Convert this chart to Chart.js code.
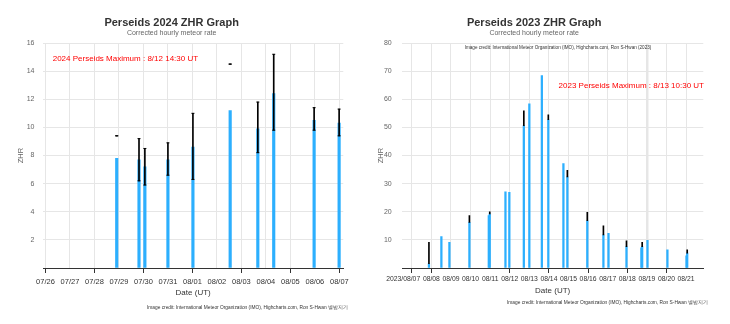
<!DOCTYPE html>
<html>
<head>
<meta charset="utf-8">
<script src="https://cdn.jsdelivr.net/npm/chart.js@4.4.1/dist/chart.umd.min.js"></script>
<style>
  body { margin: 0; background: #fff; }
  .box { position: absolute; top: 0; width: 365px; height: 324px; }
</style>
</head>
<body>
<div class="box" style="left:0"><canvas id="chart2024" width="365" height="324"></canvas></div>
<div class="box" style="left:365px"><canvas id="chart2023" width="365" height="324"></canvas></div>
<script>
const FONT = "'Liberation Sans', Arial, sans-serif";
const BLUE = '#2caffe';
const CREDIT = 'Image credit: International Meteor Organization (IMO), Highcharts.com, Ron S-Hwan 별밤지기';

// 2024 observations (UT)
const start2024   = '2024-07-26T00:00';
const times2024   = ['2024-07-28T21:50', '2024-07-29T19:40', '2024-07-30T01:25', '2024-07-31T00:00', '2024-08-01T00:30',
                     '2024-08-02T13:00', '2024-08-03T16:05', '2024-08-04T07:40', '2024-08-05T23:15', '2024-08-06T23:45'];
const zhr2024     = [7.8, 7.7, 7.2, 7.7, 8.6, 11.2, 9.9, 12.4, 10.5, 10.3];
const errLow2024  = [9.4, 6.2, 5.9, 6.6, 6.3, 14.5, 8.2, 9.8, 9.8, 9.4];
const errHigh2024 = [9.4, 9.2, 8.5, 8.9, 11.0, 14.5, 11.8, 15.2, 11.4, 11.3];
const labels2024  = ['07/26', '07/27', '07/28', '07/29', '07/30', '07/31', '08/01', '08/02', '08/03', '08/04', '08/05', '08/06', '08/07'];

// 2023 observations (UT)
const start2023   = '2023-08-07T00:00';
const times2023   = ['2023-08-07T21:00', '2023-08-08T12:15', '2023-08-08T22:05', '2023-08-09T22:35', '2023-08-10T22:20',
                     '2023-08-10T23:30', '2023-08-11T18:45', '2023-08-11T23:30', '2023-08-12T17:15', '2023-08-13T00:00',
                     '2023-08-13T15:20', '2023-08-13T23:15', '2023-08-14T17:45', '2023-08-14T22:35', '2023-08-15T23:00',
                     '2023-08-16T18:45', '2023-08-17T01:00', '2023-08-17T23:00', '2023-08-18T17:15', '2023-08-18T18:15',
                     '2023-08-19T00:45', '2023-08-20T01:10', '2023-08-21T00:30', '2023-08-21T01:25'];
const zhr2023     = [1.5, 11.2, 9.1, 16.2, 18.6, 19.2, 27.1, 26.9, 50.6, 58.4,
                     68.4, 52.7, 37.1, 32.4, 16.8, 11.8, 12.3, 7.6, 7.2, 7.6,
                     9.8, 6.5, 4.3, 5.3];
const errLow2023  = [1.5, null, null, 16.2, null, 19.2, null, null, 50.6, null,
                     null, 52.7, null, 32.4, 16.8, 11.8, null, 7.6, null, 7.6,
                     null, null, null, 5.3];
const errHigh2023 = [9.1, null, null, 18.6, null, 20.0, null, null, 55.9, null,
                     null, 54.5, null, 34.7, 19.8, 15.0, null, 9.7, null, 9.1,
                     null, null, null, 6.5];
const labels2023  = ['2023/08/07', '08/08', '08/09', '08/10', '08/11', '08/12', '08/13', '08/14',
                     '08/15', '08/16', '08/17', '08/18', '08/19', '08/20', '08/21'];

function dayOffset(iso, startIso) {
    return (Date.parse(iso + ':00Z') - Date.parse(startIso + ':00Z')) / 864e5;
}

// whiskers on the error bars + free text
const extras = {
    id: 'extras',
    afterDatasetsDraw(chart, args, opts) {
        const w = opts.whisker || 0;
        if (!w) return;
        const ctx = chart.ctx;
        ctx.save();
        ctx.strokeStyle = '#000';
        ctx.lineWidth = 1;
        chart.getDatasetMeta(0).data.forEach(el => {
            [el.y, el.base].forEach(y => {
                ctx.beginPath();
                ctx.moveTo(el.x - w / 2, y);
                ctx.lineTo(el.x + w / 2, y);
                ctx.stroke();
            });
        });
        ctx.restore();
    },
    afterDraw(chart, args, opts) {
        const ctx = chart.ctx;
        ctx.save();
        ctx.textBaseline = 'middle';
        (opts.notes || []).forEach(n => {
            ctx.font = n.size + 'px ' + FONT;
            ctx.fillStyle = n.color;
            ctx.textAlign = n.align;
            ctx.fillText(n.text, n.x, n.y);
        });
        ctx.restore();
    }
};

function buildChart(id, s) {
    const xs = s.times.map(t => dayOffset(t, s.start));
    const bars = xs.map((x, i) => ({ x: x, y: s.zhr[i] }));
    const errs = [];
    xs.forEach((x, i) => {
        if (s.lo[i] != null) errs.push({ x: x, y: [s.lo[i], s.hi[i]] });
    });

    return new Chart(document.getElementById(id), {
        type: 'bar',
        data: {
            datasets: [
                { data: errs, backgroundColor: '#000', barThickness: s.errWidth, grouped: false, order: 0 },
                { data: bars, backgroundColor: BLUE, barThickness: s.barWidth, grouped: false, order: 1 }
            ]
        },
        options: {
            responsive: false,
            animation: false,
            devicePixelRatio: 1,
            layout: { padding: { left: 0, right: s.padRight, top: 0, bottom: 20 } },
            plugins: {
                legend: { display: false },
                tooltip: { enabled: false },
                title: {
                    display: true, text: s.title, color: '#333',
                    font: { family: FONT, size: 11, weight: 'bold' },
                    padding: { top: 16, bottom: 0 }
                },
                subtitle: {
                    display: true, text: 'Corrected hourly meteor rate', color: '#666',
                    font: { family: FONT, size: 7 },
                    padding: { top: 0, bottom: 5.4 }
                },
                extras: { notes: s.notes, whisker: s.whisker }
            },
            scales: {
                x: {
                    type: 'linear',
                    min: s.xMin, max: s.xMax,
                    offset: false,
                    afterBuildTicks: sc => { sc.ticks = s.tickPos.map(v => ({ value: v })); },
                    afterFit: sc => { sc.height = 36; },
                    grid: {
                        offset: false,
                        color: c => s.hideGrid(c.index) ? 'rgba(0,0,0,0)' : '#e6e6e6',
                        lineWidth: c => s.wideGrid(c.index) ? 2.5 : 1,
                        drawTicks: true,
                        tickLength: 5,
                        tickColor: c => s.tickMark(c.index) ? '#333' : 'rgba(0,0,0,0)'
                    },
                    border: { color: '#333', width: 1 },
                    ticks: {
                        autoSkip: false, maxRotation: 0, minRotation: 0,
                        padding: s.xLabelPad, color: '#333',
                        font: { family: FONT, size: s.xFont },
                        callback: (v, i) => s.tickText[i]
                    },
                    title: {
                        display: true, text: 'Date (UT)', color: '#333',
                        font: { family: FONT, size: 8 },
                        padding: { top: 0, bottom: s.xTitlePad }
                    }
                },
                y: {
                    min: 0, max: s.yMax,
                    afterFit: sc => { sc.width = s.yWidth; },
                    grid: { color: '#e6e6e6', drawTicks: false },
                    border: { display: false },
                    ticks: {
                        stepSize: s.yStep, padding: s.yPad, color: '#666',
                        font: { family: FONT, size: 7 },
                        callback: v => v === 0 ? '' : v
                    },
                    title: {
                        display: true, text: 'ZHR', color: '#666',
                        font: { family: FONT, size: 7.5 },
                        padding: { top: s.yTitlePad, bottom: 0 }
                    }
                }
            }
        },
        plugins: [extras]
    });
}

buildChart('chart2024', {
    title: 'Perseids 2024 ZHR Graph',
    start: start2024, times: times2024, zhr: zhr2024, lo: errLow2024, hi: errHigh2024,
    barWidth: 2.5, errWidth: 1, whisker: 3,
    xMin: -0.1, xMax: 12.16,
    tickPos: labels2024.map((l, i) => i),
    tickText: labels2024,
    hideGrid: i => false,
    wideGrid: i => false,
    tickMark: i => i % 2 === 0,
    xFont: 7.5, xLabelPad: 4.2, xTitlePad: 6.2,
    yMax: 16, yStep: 2, yWidth: 43, yPad: 8.5, yTitlePad: 16,
    padRight: 21.7,
    notes: [
        { text: '2024 Perseids Maximum : 8/12 14:30 UT', x: 52.7, y: 58.7, size: 8, color: '#ff0000', align: 'left' },
        { text: CREDIT, x: 348, y: 307.7, size: 4.8, color: '#333', align: 'right' }
    ]
});

// the first 2023 label sits a little left of its tick, as in the original
const marks2023 = [0, 1, 5, 7, 9, 11, 13];
buildChart('chart2023', {
    title: 'Perseids 2023 ZHR Graph',
    start: start2023, times: times2023, zhr: zhr2023, lo: errLow2023, hi: errHigh2023,
    barWidth: 1.6, errWidth: 1, whisker: 0,
    xMin: -0.5, xMax: 14.88,
    tickPos: [-0.44].concat(labels2023.map((l, i) => i)),
    tickText: [labels2023[0], ''].concat(labels2023.slice(1)),
    hideGrid: i => i === 0,
    wideGrid: i => i === 13,
    tickMark: i => i > 0 && marks2023.includes(i - 1),
    xFont: 6.8, xLabelPad: 1.9, xTitlePad: 8.5,
    yMax: 80, yStep: 10, yWidth: 37, yPad: 10.3, yTitlePad: 11.3,
    padRight: 26.7,
    notes: [
        { text: 'Image credit: International Meteor Organization (IMO), Highcharts.com, Ron S-Hwan (2023)', x: 193, y: 47.3, size: 4.6, color: '#333', align: 'center' },
        { text: '2023 Perseids Maximum : 8/13 10:30 UT', x: 339, y: 86, size: 8, color: '#ff0000', align: 'right' },
        { text: CREDIT, x: 343, y: 302.3, size: 4.8, color: '#333', align: 'right' }
    ]
});
</script>
</body>
</html>
